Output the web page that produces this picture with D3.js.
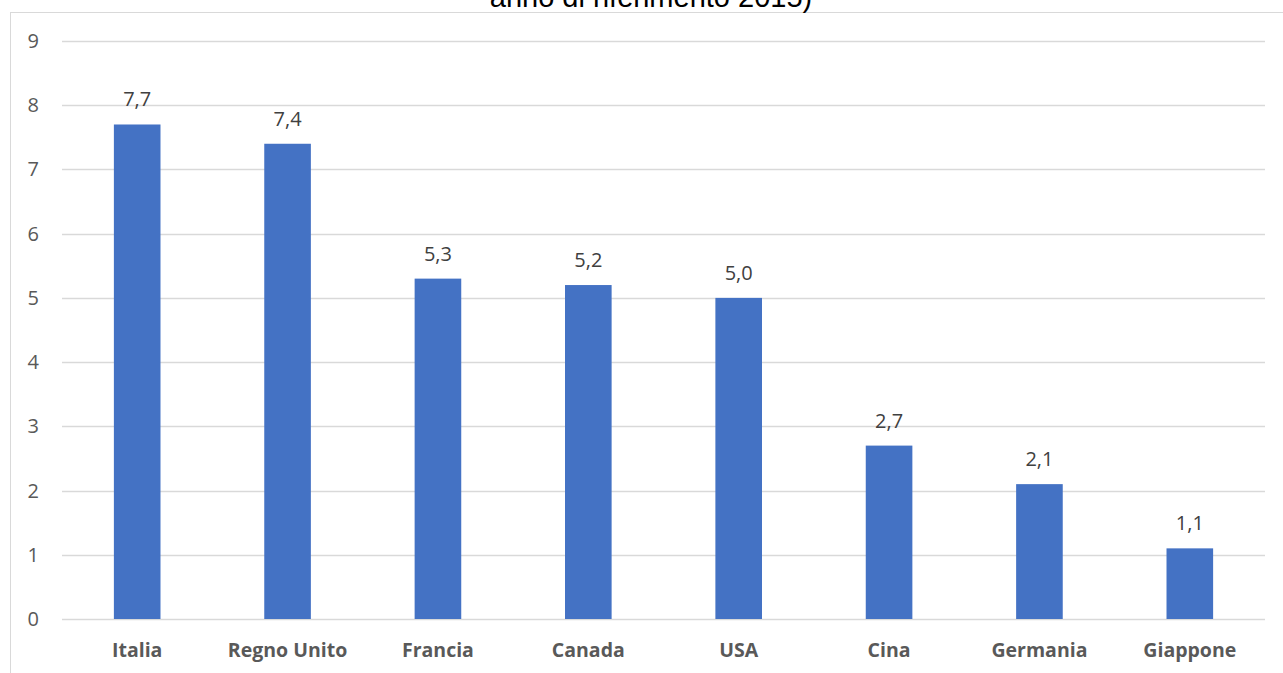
<!DOCTYPE html>
<html>
<head>
<meta charset="utf-8">
<script src="https://cdn.jsdelivr.net/npm/d3@7"></script>
<style>
  html, body { margin: 0; padding: 0; background: #fff; overflow: hidden; }
  svg { display: block; }
  .tick-label { font-family: "Open Sans", sans-serif; font-size: 20px; fill: #595959; }
  .cat-label { font-family: "Open Sans", sans-serif; font-size: 19.5px; font-weight: bold; fill: #595959; }
  .value-label { font-family: "Open Sans", sans-serif; font-size: 20px; fill: #404040; }
  .title { font-family: "Liberation Sans", Arial, sans-serif; font-size: 29px; fill: #000; }
</style>
</head>
<body>
<div id="chart"></div>
<script>
// dati del grafico
const countries = ['Italia', 'Regno Unito', 'Francia', 'Canada', 'USA', 'Cina', 'Germania', 'Giappone'];
const values = [7.7, 7.4, 5.3, 5.2, 5.0, 2.7, 2.1, 1.1];
const yTicks = [0, 1, 2, 3, 4, 5, 6, 7, 8, 9];
const titleText = 'anno di riferimento 2015)';

const width = 1283, height = 673;
const margin = { left: 62, right: 18, top: 41, bottom: 54 };
const plotW = width - margin.left - margin.right;
const plotH = height - margin.top - margin.bottom;

const svg = d3.select('#chart').append('svg')
    .attr('width', width)
    .attr('height', height);

// bordo dell'area del grafico (esce dalla finestra a destra e in basso)
svg.append('rect')
    .attr('x', 10.5)
    .attr('y', 12.5)
    .attr('width', width + 20)
    .attr('height', height + 20)
    .attr('fill', 'none')
    .attr('stroke', '#d9d9d9')
    .attr('stroke-width', 1);

// titolo, tagliato in alto come nell'originale
svg.append('text')
    .attr('class', 'title')
    .attr('x', 651)
    .attr('y', 7)
    .attr('text-anchor', 'middle')
    .text(titleText);

const x = d3.scaleBand()
    .domain(countries)
    .range([margin.left, margin.left + plotW])
    .paddingInner(0.69)
    .paddingOuter(0.345);

const y = d3.scaleLinear()
    .domain([0, 9])
    .range([margin.top + plotH, margin.top]);

// griglia
svg.append('g')
    .selectAll('line')
    .data(yTicks)
    .enter()
    .append('line')
    .attr('x1', margin.left)
    .attr('x2', margin.left + plotW)
    .attr('y1', d => Math.round(y(d)) + 0.5)
    .attr('y2', d => Math.round(y(d)) + 0.5)
    .attr('stroke', '#d9d9d9')
    .attr('stroke-width', 1.3);

// etichette asse y
svg.append('g')
    .selectAll('text')
    .data(yTicks)
    .enter()
    .append('text')
    .attr('class', 'tick-label')
    .attr('x', 39)
    .attr('y', d => y(d))
    .attr('dy', '0.35em')
    .attr('text-anchor', 'end')
    .text(d => d);

// barre
svg.append('g')
    .selectAll('rect')
    .data(values)
    .enter()
    .append('rect')
    .attr('x', (d, i) => x(countries[i]))
    .attr('y', d => y(d))
    .attr('width', x.bandwidth())
    .attr('height', d => y(0) - y(d))
    .attr('fill', '#4472c4');

// etichette dei valori
svg.append('g')
    .selectAll('text')
    .data(values)
    .enter()
    .append('text')
    .attr('class', 'value-label')
    .attr('x', (d, i) => x(countries[i]) + x.bandwidth() / 2)
    .attr('y', d => y(d) - 18)
    .attr('text-anchor', 'middle')
    .text(d => d.toFixed(1).replace('.', ','));

// etichette categorie
svg.append('g')
    .selectAll('text')
    .data(countries)
    .enter()
    .append('text')
    .attr('class', 'cat-label')
    .attr('x', d => x(d) + x.bandwidth() / 2)
    .attr('y', 657)
    .attr('text-anchor', 'middle')
    .text(d => d);
</script>
</body>
</html>
